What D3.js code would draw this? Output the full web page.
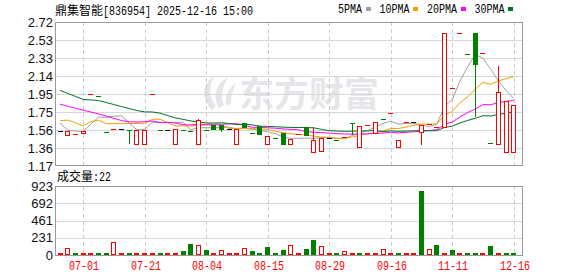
<!DOCTYPE html>
<html>
<head>
<meta charset="utf-8">
<script src="https://cdn.jsdelivr.net/npm/d3@7"></script>
<style>
body { margin: 0; background: #fff; }
svg { display: block; }
</style>
</head>
<body>
<script>
// data
var dates = ["06-19","06-24","06-27","07-01","07-03","07-04","07-08","07-10","07-14","07-16",
  "07-17","07-21","07-22","07-23","07-24","07-25","07-28","07-30","07-31","08-04",
  "08-05","08-06","08-07","08-08","08-11","08-12","08-13","08-15","08-18","08-19",
  "08-20","08-22","08-25","08-26","08-27","08-29","09-01","09-02","09-04","09-05",
  "09-09","09-10","09-12","09-16","09-22","09-26","10-09","10-17","10-24","10-30",
  "11-06","11-11","11-14","11-18","11-21","11-26","12-02","12-05","12-10","12-16"];
var open = [1.55,1.50,1.50,1.52,1.95,1.92,1.54,1.57,1.57,1.56,
  1.41,1.41,1.95,1.56,1.56,1.41,1.56,1.55,1.41,1.56,
  1.61,1.61,1.57,1.41,1.63,1.53,1.60,1.41,1.47,1.52,
  1.41,1.51,1.59,1.32,1.33,1.47,1.45,1.48,1.63,1.37,
  1.61,1.52,1.68,1.74,1.37,1.64,1.64,1.54,1.61,1.58,
  1.59,2.00,2.60,2.38,2.60,2.39,1.42,1.41,1.32,1.32];
var high = [1.55,1.55,1.51,1.55,1.95,1.92,1.54,1.57,1.57,1.56,
  1.56,1.56,1.95,1.56,1.56,1.57,1.56,1.55,1.68,1.56,
  1.61,1.61,1.57,1.57,1.63,1.53,1.60,1.49,1.47,1.52,
  1.46,1.51,1.59,1.59,1.47,1.47,1.45,1.48,1.63,1.60,
  1.61,1.64,1.68,1.74,1.45,1.64,1.64,1.61,1.62,1.59,
  2.60,2.01,2.60,2.38,2.60,2.39,1.42,2.25,1.87,1.83];
var low = [1.55,1.50,1.50,1.52,1.95,1.92,1.54,1.57,1.57,1.41,
  1.41,1.41,1.95,1.56,1.56,1.41,1.56,1.55,1.41,1.56,
  1.57,1.54,1.57,1.41,1.59,1.53,1.51,1.41,1.47,1.41,
  1.41,1.51,1.50,1.32,1.33,1.47,1.45,1.48,1.50,1.37,
  1.61,1.52,1.67,1.74,1.37,1.64,1.64,1.40,1.61,1.58,
  1.59,2.00,2.60,2.38,1.70,2.39,1.42,1.41,1.32,1.32];
var close = [1.55,1.55,1.51,1.55,1.95,1.92,1.54,1.57,1.57,1.56,
  1.56,1.56,1.95,1.56,1.56,1.57,1.56,1.55,1.67,1.56,
  1.57,1.57,1.57,1.57,1.59,1.53,1.51,1.49,1.47,1.41,
  1.46,1.51,1.50,1.45,1.47,1.47,1.45,1.48,1.62,1.60,
  1.61,1.64,1.67,1.74,1.45,1.64,1.64,1.61,1.62,1.59,
  2.60,2.01,2.60,2.38,2.27,2.39,1.42,1.97,1.87,1.83];
var volume = [15,90,12,18,15,12,16,170,14,15,
  18,15,16,27,14,27,58,147,134,67,
  18,67,27,15,90,58,13,107,15,71,
  129,15,85,200,116,14,14,53,27,27,
  15,15,76,15,14,15,14,856,76,134,
  18,67,15,15,15,15,120,27,15,22];
// closes before the first visible day, needed for the moving averages
var priorClose = [2.53,2.49,2.53,2.12,2.09,2.19,2.22,2.22,2.21,2.21,
  1.99,1.97,1.95,2.35,2.32,2.02,2.05,2.05,1.82,1.62,
  1.49,1.79,1.91,1.48,1.75,1.92,1.57,1.57,1.55];
var priceTicks = ["1.17","1.36","1.56","1.75","1.95","2.14","2.33","2.53","2.72"];
var volTicks = ["0","231","461","692","923"];
var maDays = [5, 10, 20, 30];
var maNames = ["5PMA", "10PMA", "20PMA", "30PMA"];

var maColors = ["#a0a0a0", "#f0a000", "#ff00ff", "#00702a"];
var red = "#ff0000", green = "#008000";
var mono = "'Liberation Mono', 'DejaVu Sans Mono', monospace";
var cjk = "'Noto Sans CJK SC', sans-serif";

var W = 578, H = 276;
var L = 55, R = 522, T = 22, B = 166, VT = 186, VB = 255;

var svg = d3.select('body').append('svg')
    .attr('width', W)
    .attr('height', H)
svg.append('rect').attr('width', W).attr('height', H).attr('fill', '#fff')

var idx = d3.range(dates.length);
var x = d3.scaleBand().domain(idx).range([56.2, 517.6]);
var cx = function (i) { return x(i) + x.bandwidth() / 2 };
var yP = d3.scaleLinear().domain([1.17, 2.72]).range([B, T]);
var yV = d3.scaleLinear().domain([0, 923]).range([VB, VT]);

var priceVals = priceTicks.map(function (t, k) { return 1.17 + k * (2.72 - 1.17) / 8 });
var volVals = volTicks.map(function (t, k) { return k * 923 / 4 });
var gridIdx = idx.filter(function (i) { return i % 8 === 3 });

function mtext(g, str, size) {
  return g.append('text').text(str)
    .attr('font-family', mono).attr('font-size', size)
    .attr('textLength', 6 * str.length).attr('lengthAdjust', 'spacingAndGlyphs')
}

// watermark
var wm = svg.append('g').attr('fill', '#e6e6ea')
wm.append('path').attr('d', 'M212,110 C200,98 202,84 214,76 C208,88 210,99 216,106 Z')
wm.append('path').attr('d', 'M219,108 C212,96 216,84 228,77 C221,89 221,99 224,105 Z')
wm.append('path').attr('d', 'M226,106 C224,96 229,87 236,83 C232,92 231,99 231,104 Z')
wm.append('text').text('东方财富').attr('x', 239).attr('y', 107)
  .attr('font-family', cjk).attr('font-weight', 'bold').attr('font-size', 35)

// grid, main panel
var grid = svg.append('g').attr('shape-rendering', 'crispEdges')
grid.selectAll('.hg').data(priceVals.slice(1, -1)).enter().append('line')
  .attr('x1', L).attr('x2', R)
  .attr('y1', function (d) { return Math.round(yP(d)) + 0.5 })
  .attr('y2', function (d) { return Math.round(yP(d)) + 0.5 })
  .attr('stroke', '#d8d8d8')
grid.selectAll('.hv').data(volVals.slice(1, -1)).enter().append('line')
  .attr('x1', L).attr('x2', R)
  .attr('y1', function (d) { return Math.round(yV(d)) + 0.5 })
  .attr('y2', function (d) { return Math.round(yV(d)) + 0.5 })
  .attr('stroke', '#d8d8d8')
gridIdx.forEach(function (i) {
  var gx = Math.round(cx(i)) + 0.5;
  [[T, B], [VT, VB]].forEach(function (r) {
    grid.append('line').attr('x1', gx).attr('x2', gx).attr('y1', r[0]).attr('y2', r[1])
      .attr('stroke', '#cccccc').attr('stroke-dasharray', '4,3')
  })
})

// moving averages
var allClose = priorClose.concat(close);
var p0 = priorClose.length;
var clip = svg.append('clipPath').attr('id', 'pc').append('rect')
  .attr('x', L).attr('y', T).attr('width', R - L).attr('height', B - T)
var maG = svg.append('g').attr('clip-path', 'url(#pc)')
maDays.forEach(function (n, k) {
  var vals = idx.map(function (i) { return d3.mean(allClose.slice(p0 + i - n + 1, p0 + i + 1)) });
  maG.append('path').datum(vals)
    .attr('d', d3.line().x(function (d, i) { return cx(i) }).y(function (d) { return yP(d) }))
    .attr('fill', 'none').attr('stroke', maColors[k]).attr('stroke-width', 1)
})

function prevClose(i) { return i ? close[i - 1] : priorClose[p0 - 1] }
function dir(i) {
  if (close[i] > open[i]) return 1;
  if (close[i] < open[i]) return -1;
  return close[i] > prevClose(i) ? 1 : close[i] < prevClose(i) ? -1 : 0;
}

// candles
var cg = svg.append('g').attr('shape-rendering', 'crispEdges')
idx.forEach(function (i) {
  var d = dir(i);
  var col = d > 0 ? red : d < 0 ? green : '#000';
  var xl = Math.round(cx(i) - 2.5);
  var wx = xl + 2.5;
  var top = Math.round(yP(Math.max(open[i], close[i])));
  var bot = Math.round(yP(Math.min(open[i], close[i])));
  var yh = Math.round(yP(high[i])), yl = Math.round(yP(low[i]));
  if (yh < top) cg.append('line').attr('x1', wx).attr('x2', wx).attr('y1', yh).attr('y2', top).attr('stroke', col)
  if (yl > bot) cg.append('line').attr('x1', wx).attr('x2', wx).attr('y1', bot).attr('y2', yl).attr('stroke', col)
  if (bot - top < 2) {
    cg.append('rect').attr('x', xl).attr('y', top).attr('width', 5).attr('height', Math.max(1, bot - top))
      .attr('fill', col)
  } else if (d > 0) {
    cg.append('rect').attr('x', xl + 0.5).attr('y', top + 0.5).attr('width', 4).attr('height', bot - top)
      .attr('fill', '#fff').attr('stroke', col)
  } else {
    cg.append('rect').attr('x', xl).attr('y', top).attr('width', 5).attr('height', bot - top + 1)
      .attr('fill', col)
  }
})

// volume bars
var vg = svg.append('g').attr('shape-rendering', 'crispEdges')
idx.forEach(function (i) {
  var up = close[i] >= prevClose(i);
  var col = up ? red : green;
  var xl = Math.round(cx(i) - 2.5);
  var top = Math.round(yV(volume[i]));
  var h = Math.max(2, VB - top);
  top = VB - h;
  if (up && h > 2) {
    vg.append('rect').attr('x', xl + 0.5).attr('y', top + 0.5).attr('width', 4).attr('height', h - 1)
      .attr('fill', 'none').attr('stroke', col)
  } else {
    vg.append('rect').attr('x', xl).attr('y', top).attr('width', 5).attr('height', h).attr('fill', col)
  }
})

// frames
var fr = svg.append('g').attr('shape-rendering', 'crispEdges').attr('fill', 'none').attr('stroke', '#999')
fr.append('rect').attr('x', L + 0.5).attr('y', T + 0.5).attr('width', R - L).attr('height', B - T - 1)
fr.append('rect').attr('x', L + 0.5).attr('y', VT + 0.5).attr('width', R - L).attr('height', VB - VT)

// axis labels
var ax = svg.append('g').attr('font-family', "'Liberation Sans', Arial, sans-serif")
  .attr('font-size', 13).attr('fill', '#111').attr('text-anchor', 'end')
ax.selectAll('.pt').data(priceTicks).enter().append('text')
  .attr('x', 53).attr('y', function (d, k) { return yP(priceVals[k]) + 4.5 })
  .text(function (d) { return d })
ax.selectAll('.vt').data(volTicks).enter().append('text')
  .attr('x', 53).attr('y', function (d, k) { return yV(volVals[k]) + 4.5 })
  .text(function (d) { return d })

gridIdx.forEach(function (i) {
  mtext(svg, dates[i], 12).attr('x', Math.round(cx(i)) - 14).attr('y', 270).attr('fill', red)
})

// title and legend
var title = svg.append('text').attr('x', 55).attr('y', 15).attr('fill', '#000')
title.append('tspan').text('鼎集智能').attr('font-family', cjk).attr('font-size', 12)
title.append('tspan').text('[836954] 2025-12-16 15:00').attr('font-family', mono).attr('font-size', 12)
  .attr('textLength', 150).attr('lengthAdjust', 'spacingAndGlyphs')

var lx = 338;
maNames.forEach(function (nm, k) {
  mtext(svg, nm, 12).attr('x', lx).attr('y', 13).attr('fill', '#000')
  lx += 6 * nm.length + 3.5;
  svg.append('rect').attr('x', Math.round(lx)).attr('y', 7).attr('width', 5).attr('height', 4)
    .attr('fill', maColors[k])
  lx += 5 + 9;
})

var vt = svg.append('text').attr('x', 57).attr('y', 181).attr('fill', '#000')
vt.append('tspan').text('成交量').attr('font-family', cjk).attr('font-size', 12)
vt.append('tspan').text(':' + volume[volume.length - 1]).attr('font-family', mono).attr('font-size', 12)
  .attr('textLength', 18).attr('lengthAdjust', 'spacingAndGlyphs')
</script>
</body>
</html>
